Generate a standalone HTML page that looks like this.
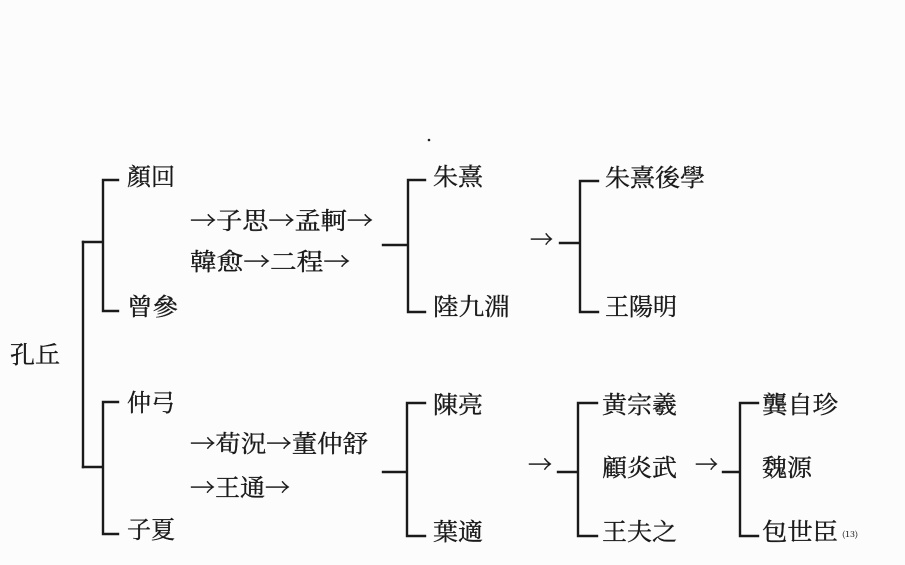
<!DOCTYPE html>
<html>
<head>
<meta charset="utf-8">
<style>
html,body{margin:0;padding:0;background:#fcfcfc;}
svg{display:block;}
text{font-family:"Noto Serif CJK SC","Noto Sans CJK SC",serif;font-size:24px;fill:#1a1a1a;stroke:#1a1a1a;stroke-width:0.35px;}
</style>
</head>
<body>
<svg width="905" height="565" viewBox="0 0 905 565" xmlns="http://www.w3.org/2000/svg">
<rect width="905" height="565" fill="#fcfcfc"/>
<g stroke="#1a1a1a" stroke-width="2.4" fill="none" stroke-linecap="square">
  <path d="M83 242 V467"/>
  <path d="M83 242 H103 M103 180 V311 M103 180 H118 M103 311 H118"/>
  <path d="M83 467 H103 M103 402 V534 M103 402 H118 M103 534 H118"/>
  <path d="M383 245 H408 M408 180 V312 M408 180 H425 M408 312 H425"/>
  <path d="M383 472 H407 M407 403 V536 M407 403 H425 M407 536 H425"/>
  <path d="M560 243 H580 M580 181 V312 M580 181 H598 M580 312 H598"/>
  <path d="M558 472 H578 M578 403 V536 M578 403 H597 M578 536 H597"/>
  <path d="M723 472 H740 M740 403 V536 M740 403 H758 M740 536 H758"/>
</g>
<circle cx="429" cy="140" r="1.3" fill="#222"/>

<text x="10" y="363" textLength="50" lengthAdjust="spacingAndGlyphs">孔丘</text>

<text x="127" y="185" textLength="48" lengthAdjust="spacingAndGlyphs">顏回</text>
<text x="190" y="229" textLength="183" lengthAdjust="spacingAndGlyphs">→子思→孟軻→</text>
<text x="190" y="270" textLength="160" lengthAdjust="spacingAndGlyphs">韓愈→二程→</text>
<text x="127" y="315" textLength="51" lengthAdjust="spacingAndGlyphs">曾參</text>

<text x="127" y="411" textLength="48" lengthAdjust="spacingAndGlyphs">仲弓</text>
<text x="190" y="452" textLength="178" lengthAdjust="spacingAndGlyphs">→荀況→董仲舒</text>
<text x="190" y="496" textLength="100" lengthAdjust="spacingAndGlyphs">→王通→</text>
<text x="127" y="538" textLength="48" lengthAdjust="spacingAndGlyphs">子夏</text>

<text x="433" y="185" textLength="50" lengthAdjust="spacingAndGlyphs">朱熹</text>
<text x="433" y="315" textLength="77" lengthAdjust="spacingAndGlyphs">陸九淵</text>
<text x="433" y="413" textLength="50" lengthAdjust="spacingAndGlyphs">陳亮</text>
<text x="433" y="540" textLength="50" lengthAdjust="spacingAndGlyphs">葉適</text>

<text x="530" y="248" textLength="23" lengthAdjust="spacingAndGlyphs">→</text>
<text x="528" y="473" textLength="24" lengthAdjust="spacingAndGlyphs">→</text>
<text x="695" y="473" textLength="23" lengthAdjust="spacingAndGlyphs">→</text>

<text x="605" y="186" textLength="100" lengthAdjust="spacingAndGlyphs">朱熹後學</text>
<text x="605" y="315" textLength="72" lengthAdjust="spacingAndGlyphs">王陽明</text>
<text x="602" y="413" textLength="75" lengthAdjust="spacingAndGlyphs">黄宗羲</text>
<text x="602" y="476" textLength="75" lengthAdjust="spacingAndGlyphs">顧炎武</text>
<text x="602" y="540" textLength="75" lengthAdjust="spacingAndGlyphs">王夫之</text>

<text x="762" y="413" textLength="76" lengthAdjust="spacingAndGlyphs">龔自珍</text>
<text x="762" y="476" textLength="50" lengthAdjust="spacingAndGlyphs">魏源</text>
<text x="762" y="540" textLength="76" lengthAdjust="spacingAndGlyphs">包世臣</text>
<text x="842" y="537" style="font-size:8px;stroke-width:0.1px" textLength="16" lengthAdjust="spacingAndGlyphs">(13)</text>
</svg>
</body>
</html>
